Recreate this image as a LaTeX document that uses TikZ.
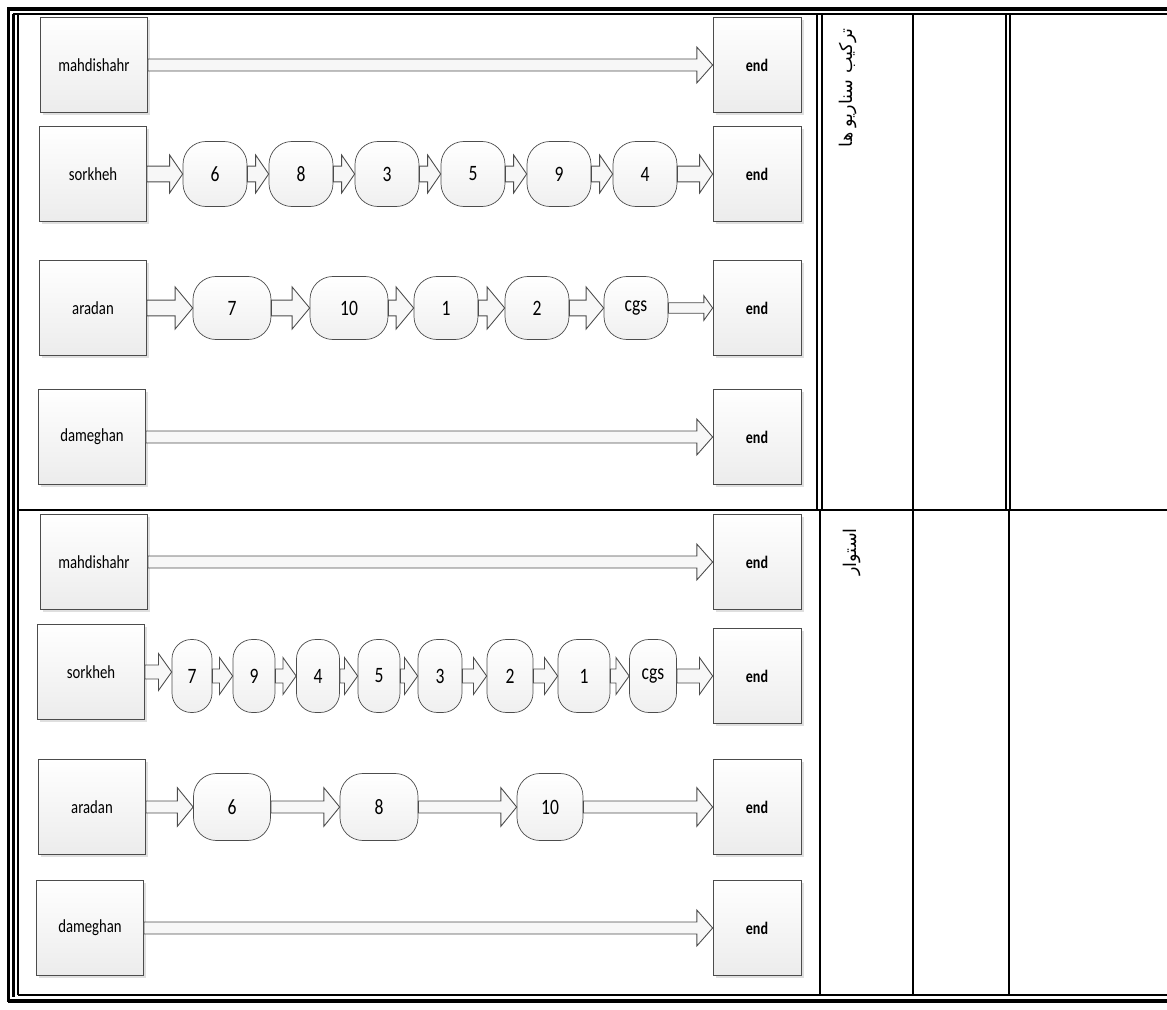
\documentclass[tikz,border=0pt]{standalone}
\usepackage{fontspec}
\setmainfont{Carlito}[FakeStretch=0.8]
\newfontfamily\arabicfont[Script=Arabic]{DejaVu Sans}
\TeXXeTstate=1
\usetikzlibrary{calc,shadows}

\tikzset{
  site/.style={draw=gray!60!black, top color=white, bottom color=gray!15,
    minimum width=2.14cm, minimum height=1.9cm, font=\fontsize{10.5}{12}\selectfont,
    drop shadow={shadow xshift=1.5pt, shadow yshift=-1.5pt, fill=gray!50, opacity=0.5}},
  finish/.style={site, minimum width=1.76cm, font=\fontsize{10}{12}\selectfont\bfseries},
  stage/.style={draw=gray!60!black, rounded corners=13pt, top color=white, bottom color=gray!12,
    minimum height=1.3cm, minimum width=1.28cm, inner sep=1pt, font=\fontsize{12.5}{14}\selectfont},
  slim/.style={stage, rounded corners=11pt, minimum height=1.46cm},
  flowarrow/.style={draw=gray!60!black, fill=gray!6, line width=0.5pt},
  rule/.style={line width=1.2pt},
  heavy/.style={line width=2pt},
  persian/.style={rotate=90, anchor=east, font=\arabicfont\fontsize{10}{12}\selectfont}
}

% block arrow: from, to, half shaft, half head, head length
\newcommand{\flow}[5]{%
  \draw[flowarrow] let \p1=(#1.east), \p2=(#2.west) in
    (\x1,\y1+#3) -- (\x2-#5,\y1+#3) -- (\x2-#5,\y1+#4) -- (\x2,\y1)
    -- (\x2-#5,\y1-#4) -- (\x2-#5,\y1-#3) -- (\x1,\y1-#3) -- cycle;}

\begin{document}
\begin{tikzpicture}[x=0.02cm, y=-0.02cm]
  \useasboundingbox (0,0) rectangle (1167,1010);

  % table frame
  \draw[heavy] (7,9) -- (1167,9);
  \draw[rule] (13,14) -- (1167,14);
  \draw[heavy] (8.5,8) -- (8.5,1002);
  \draw[heavy] (13.5,14) -- (13.5,997);
  \draw[rule] (18,14) -- (18,995);
  \draw[rule] (18,995) -- (1167,995);
  \draw[heavy] (7.5,1001) -- (1167,1001);
  \draw[rule] (18,510) -- (1167,510);
  \draw[rule] (817,14) -- (817,510);
  \draw[rule] (822,14) -- (822,510);
  \draw[rule] (820,510) -- (820,995);
  \draw[rule] (913,14) -- (913,995);
  \draw[rule] (1006,14) -- (1006,510);
  \draw[rule] (1010,14) -- (1010,510);
  \draw[rule] (1009,510) -- (1009,995);

  \node[persian] (mixlbl) at (848,22) {\beginR ترکیب سناریو ها\endR};
  \node[persian] (firmlbl) at (852,522) {\beginR استوار\endR};

  % upper block
  \node[site] (ms1) at (94,65) {mahdishahr};
  \node[finish] (ms1e) at (757,65) {end};
  \flow{ms1}{ms1e}{3.4pt}{10.2pt}{9pt}

  \node[site] (sk1) at (93,174) {sorkheh};
  \node[stage] (sk1a) at (215,174) {6};
  \node[stage] (sk1b) at (301,174) {8};
  \node[stage] (sk1c) at (387,174) {3};
  \node[stage] (sk1d) at (473,174) {5};
  \node[stage] (sk1f) at (559,174) {9};
  \node[stage] (sk1g) at (645,174) {4};
  \node[finish] (sk1e) at (757,174) {end};
  \flow{sk1}{sk1a}{4.5pt}{10.8pt}{7.4pt}
  \flow{sk1a}{sk1b}{4.5pt}{10.8pt}{7.4pt}
  \flow{sk1b}{sk1c}{4.5pt}{10.8pt}{7.4pt}
  \flow{sk1c}{sk1d}{4.5pt}{10.8pt}{7.4pt}
  \flow{sk1d}{sk1f}{4.5pt}{10.8pt}{7.4pt}
  \flow{sk1f}{sk1g}{4.5pt}{10.8pt}{7.4pt}
  \flow{sk1g}{sk1e}{4.5pt}{10.8pt}{7.4pt}

  \node[site] (ar1) at (93,308) {aradan};
  \node[stage, minimum width=1.56cm, minimum height=1.26cm] (ar1a) at (232,308) {7};
  \node[stage, minimum width=1.56cm, minimum height=1.26cm] (ar1b) at (349,308) {10};
  \node[stage, minimum height=1.26cm] (ar1c) at (446,308) {1};
  \node[stage, minimum height=1.26cm] (ar1d) at (537,308) {2};
  \node[stage, minimum height=1.26cm] (ar1f) at (636,308) {cgs};
  \node[finish] (ar1e) at (757,308) {end};
  \flow{ar1}{ar1a}{4.5pt}{12pt}{10pt}
  \flow{ar1a}{ar1b}{4.5pt}{12pt}{10pt}
  \flow{ar1b}{ar1c}{4.5pt}{12pt}{10pt}
  \flow{ar1c}{ar1d}{4.5pt}{12pt}{10pt}
  \flow{ar1d}{ar1f}{4.5pt}{12pt}{10pt}
  \flow{ar1f}{ar1e}{3pt}{7pt}{5pt}

  \node[site] (dm1) at (92,437) {dameghan};
  \node[finish] (dm1e) at (757,437) {end};
  \flow{dm1}{dm1e}{3.4pt}{10.2pt}{9pt}

  % lower block
  \node[site] (ms2) at (94,562) {mahdishahr};
  \node[finish] (ms2e) at (757,562) {end};
  \flow{ms2}{ms2e}{3.4pt}{10.2pt}{9pt}

  \node[site] (sk2) at (91,672) {sorkheh};
  \node[slim, minimum width=0.8cm] (sk2a) at (192,676) {7};
  \node[slim, minimum width=0.84cm] (sk2b) at (254,676) {9};
  \node[slim, minimum width=0.86cm] (sk2c) at (318,676) {4};
  \node[slim, minimum width=0.84cm] (sk2d) at (379,676) {5};
  \node[slim, minimum width=0.88cm] (sk2f) at (440,676) {3};
  \node[slim, minimum width=0.92cm] (sk2g) at (510,676) {2};
  \node[slim, minimum width=1.04cm] (sk2h) at (584,676) {1};
  \node[slim, minimum width=0.94cm] (sk2i) at (653,676) {cgs};
  \node[finish] (sk2e) at (757,676) {end};
  \flow{sk2}{sk2a}{4pt}{10.5pt}{7.5pt}
  \flow{sk2a}{sk2b}{4pt}{10.5pt}{7.5pt}
  \flow{sk2b}{sk2c}{4pt}{10.5pt}{7.5pt}
  \flow{sk2c}{sk2d}{4pt}{10.5pt}{7.5pt}
  \flow{sk2d}{sk2f}{4pt}{10.5pt}{7.5pt}
  \flow{sk2f}{sk2g}{4pt}{10.5pt}{7.5pt}
  \flow{sk2g}{sk2h}{4pt}{10.5pt}{7.5pt}
  \flow{sk2h}{sk2i}{4pt}{10.5pt}{7.5pt}
  \flow{sk2i}{sk2e}{4pt}{10.5pt}{7.5pt}

  \node[site] (ar2) at (92,807) {aradan};
  \node[stage, minimum width=1.54cm, minimum height=1.34cm] (ar2a) at (232,807) {6};
  \node[stage, minimum width=1.56cm, minimum height=1.34cm] (ar2b) at (379,807) {8};
  \node[stage, minimum width=1.32cm, minimum height=1.34cm] (ar2c) at (550,807) {10};
  \node[finish] (ar2e) at (757,807) {end};
  \flow{ar2}{ar2a}{3.4pt}{11pt}{9pt}
  \flow{ar2a}{ar2b}{3.4pt}{11pt}{9pt}
  \flow{ar2b}{ar2c}{3.4pt}{11pt}{9pt}
  \flow{ar2c}{ar2e}{3.4pt}{11pt}{9pt}

  \node[site] (dm2) at (90,928) {dameghan};
  \node[finish] (dm2e) at (757,928) {end};
  \flow{dm2}{dm2e}{3.4pt}{10.2pt}{9pt}
\end{tikzpicture}
\end{document}
